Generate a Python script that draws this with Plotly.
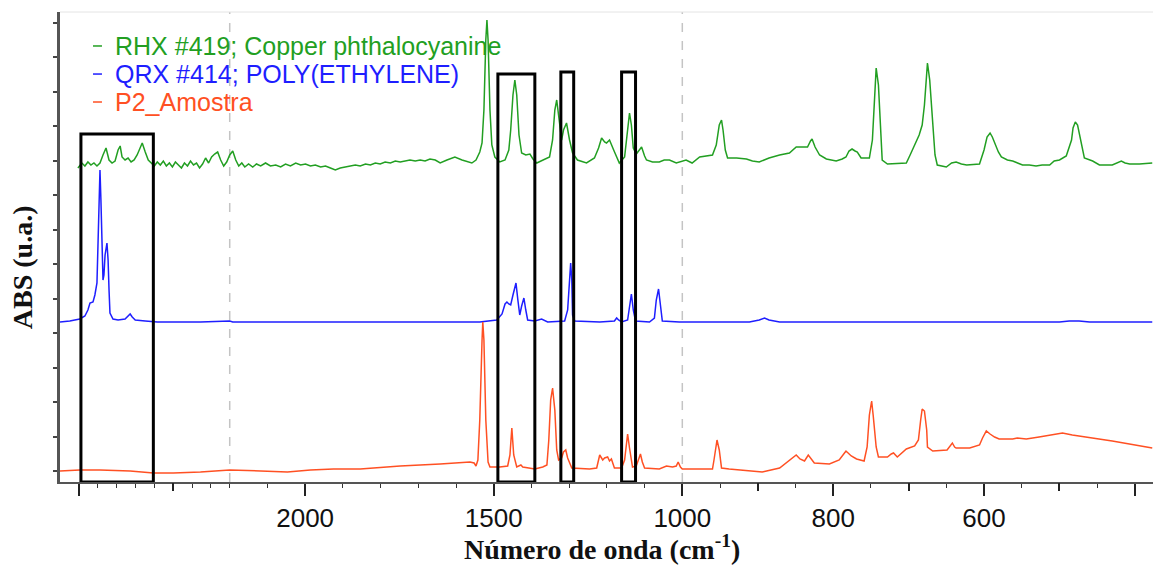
import numpy as np
import plotly.graph_objects as go

# ---------------- data (wavenumber in cm-1, absorbance in u.a.) ----------------
green_wn = [3005, 2984, 2968, 2952, 2936, 2920, 2904, 2888, 2872, 2856, 2840, 2824, 2808, 2792, 2781, 2771,
            2755, 2739, 2723, 2707, 2691, 2675, 2664, 2648, 2632, 2616, 2600, 2584, 2568, 2552, 2536, 2520,
            2504, 2488, 2472, 2456, 2440, 2424, 2408, 2392, 2376, 2360, 2344, 2328, 2312, 2296, 2280, 2264,
            2248, 2232, 2216, 2200, 2192, 2184, 2176, 2168, 2160, 2150, 2139, 2129, 2118, 2105, 2092, 2078,
            2065, 2052, 2039, 2025, 2012, 1999, 1986, 1973, 1959, 1946, 1933, 1920, 1907, 1893, 1880, 1867,
            1854, 1840, 1827, 1814, 1801, 1788, 1774, 1761, 1748, 1735, 1722, 1708, 1695, 1682, 1669, 1655,
            1642, 1624, 1603, 1584, 1568, 1558, 1547, 1537, 1531, 1526, 1521, 1518, 1515, 1510, 1505, 1497,
            1484, 1470, 1460, 1455, 1449, 1444, 1439, 1433, 1426, 1415, 1404, 1396, 1386, 1370, 1352, 1344,
            1338, 1333, 1328, 1320, 1315, 1307, 1299, 1291, 1278, 1254, 1233, 1222, 1214, 1206, 1201, 1193,
            1182, 1172, 1167, 1153, 1148, 1143, 1140, 1135, 1130, 1122, 1114, 1108, 1100, 1095, 1079, 1061,
            1048, 1034, 1016, 1000, 995, 987, 977, 960, 955, 951, 948, 946, 943, 940, 928, 915,
            907, 898, 885, 871, 858, 849, 841, 834, 830, 828, 824, 818, 809, 796, 788, 783,
            779, 775, 771, 768, 763, 752, 748, 745, 743, 740, 737, 735, 728, 712, 703, 698,
            692, 686, 682, 679, 675, 672, 668, 665, 662, 650, 643, 637, 630, 623, 606, 602,
            600, 596, 592, 589, 586, 581, 577, 569, 562, 549, 540, 531, 523, 513, 507, 500,
            491, 487, 484, 482, 479, 476, 474, 470, 467, 456, 447, 430, 423, 418, 413, 407,
            394, 377]
green_abs = [3.03, 3.08, 3.05, 3.09, 3.06, 3.08, 3.05, 3.08, 3.16, 3.23, 3.11, 3.08, 3.10, 3.21, 3.25, 3.14,
             3.11, 3.13, 3.09, 3.11, 3.16, 3.24, 3.28, 3.19, 3.11, 3.08, 3.05, 3.09, 3.06, 3.10, 3.05, 3.08,
             3.04, 3.09, 3.06, 3.03, 3.08, 3.05, 3.10, 3.06, 3.08, 3.03, 3.07, 3.13, 3.08, 3.14, 3.17, 3.19,
             3.11, 3.05, 3.09, 3.16, 3.20, 3.11, 3.05, 3.08, 3.04, 3.07, 3.04, 3.07, 3.05, 3.08, 3.05, 3.06,
             3.04, 3.07, 3.05, 3.08, 3.06, 3.07, 3.05, 3.06, 3.04, 3.05, 3.03, 3.01, 3.03, 3.04, 3.05, 3.06,
             3.05, 3.07, 3.06, 3.08, 3.07, 3.09, 3.08, 3.10, 3.09, 3.10, 3.11, 3.10, 3.11, 3.10, 3.12, 3.11,
             3.08, 3.11, 3.14, 3.11, 3.09, 3.08, 3.11, 3.19, 3.28, 3.61, 4.31, 4.51, 4.31, 3.61, 3.26, 3.14,
             3.09, 3.11, 3.21, 3.41, 3.76, 3.91, 3.76, 3.36, 3.18, 3.16, 3.17, 3.12, 3.08, 3.11, 3.14, 3.31,
             3.61, 3.71, 3.53, 3.31, 3.41, 3.48, 3.31, 3.18, 3.11, 3.08, 3.13, 3.23, 3.33, 3.29, 3.28, 3.31,
             3.21, 3.11, 3.08, 3.14, 3.31, 3.53, 3.58, 3.46, 3.23, 3.17, 3.21, 3.24, 3.15, 3.11, 3.09, 3.09,
             3.11, 3.11, 3.08, 3.10, 3.11, 3.08, 3.14, 3.16, 3.26, 3.46, 3.51, 3.41, 3.21, 3.13, 3.13, 3.12,
             3.10, 3.09, 3.13, 3.16, 3.18, 3.24, 3.24, 3.24, 3.30, 3.32, 3.24, 3.16, 3.12, 3.10, 3.12, 3.14,
             3.20, 3.22, 3.20, 3.19, 3.13, 3.13, 3.31, 3.76, 4.03, 3.86, 3.31, 3.11, 3.07, 3.08, 3.08, 3.16,
             3.26, 3.36, 3.46, 3.66, 4.08, 3.91, 3.48, 3.16, 3.06, 3.04, 3.08, 3.09, 3.07, 3.06, 3.07, 3.15,
             3.21, 3.34, 3.38, 3.34, 3.28, 3.19, 3.14, 3.11, 3.10, 3.06, 3.06, 3.05, 3.06, 3.06, 3.10, 3.11,
             3.15, 3.23, 3.31, 3.43, 3.49, 3.46, 3.38, 3.21, 3.13, 3.10, 3.06, 3.06, 3.08, 3.10, 3.08, 3.07,
             3.07, 3.08]

blue_wn = [3100, 3048, 2995, 2968, 2952, 2941, 2925, 2915, 2904, 2899, 2893, 2888, 2883, 2877, 2872, 2867,
           2861, 2851, 2845, 2840, 2835, 2819, 2792, 2755, 2739, 2728, 2717, 2701, 2648, 2584, 2355, 2200,
           2192, 2012, 1748, 1537, 1492, 1478, 1470, 1465, 1460, 1455, 1449, 1441, 1436, 1431, 1426, 1420,
           1415, 1410, 1391, 1373, 1357, 1312, 1304, 1299, 1296, 1293, 1291, 1285, 1219, 1180, 1174, 1169,
           1161, 1145, 1140, 1135, 1130, 1124, 1087, 1074, 1069, 1063, 1058, 1053, 1008, 911, 898, 891,
           885, 871, 500, 487, 474, 460, 377]
blue_abs = [1.49, 1.50, 1.52, 1.55, 1.61, 1.68, 1.69, 1.76, 1.88, 2.21, 2.71, 3.01, 2.71, 2.11, 1.91, 1.96,
            2.16, 2.28, 2.11, 1.81, 1.58, 1.52, 1.51, 1.52, 1.55, 1.57, 1.54, 1.51, 1.50, 1.49, 1.49, 1.50,
            1.49, 1.49, 1.49, 1.49, 1.51, 1.57, 1.67, 1.69, 1.67, 1.66, 1.76, 1.88, 1.71, 1.56, 1.65, 1.73,
            1.61, 1.51, 1.50, 1.52, 1.49, 1.50, 1.61, 1.96, 2.08, 1.91, 1.56, 1.50, 1.49, 1.50, 1.53, 1.51,
            1.49, 1.51, 1.66, 1.77, 1.61, 1.50, 1.49, 1.53, 1.71, 1.82, 1.66, 1.50, 1.49, 1.49, 1.51, 1.53,
            1.51, 1.49, 1.49, 1.50, 1.50, 1.49, 1.49]

red_wn = [3100, 2995, 2888, 2728, 2605, 2499, 2355, 2200, 2118, 2047, 1986, 1925, 1854, 1748, 1642, 1563,
          1552, 1547, 1542, 1537, 1531, 1529, 1526, 1521, 1515, 1510, 1484, 1463, 1457, 1452, 1447, 1439,
          1428, 1423, 1391, 1370, 1359, 1354, 1349, 1344, 1338, 1333, 1328, 1320, 1315, 1309, 1304, 1293,
          1246, 1227, 1219, 1211, 1206, 1198, 1193, 1188, 1180, 1161, 1153, 1148, 1145, 1140, 1132, 1122,
          1116, 1111, 1106, 1100, 1061, 1042, 1026, 1016, 1011, 1005, 1000, 977, 960, 958, 955, 954,
          951, 948, 938, 894, 871, 862, 854, 849, 844, 838, 833, 829, 825, 805, 792, 785,
          783, 776, 769, 759, 755, 752, 749, 747, 743, 740, 728, 723, 720, 715, 703, 692,
          687, 684, 682, 679, 676, 675, 668, 649, 645, 642, 639, 637, 619, 606, 602, 597,
          592, 586, 580, 562, 556, 544, 527, 496, 483, 430, 377]
red_abs = [0.00, 0.01, 0.01, 0.00, -0.02, -0.02, -0.01, 0.01, 0.00, -0.01, 0.01, 0.02, 0.02, 0.05, 0.07, 0.09,
           0.08, 0.05, 0.11, 0.51, 1.31, 1.49, 1.31, 0.51, 0.09, 0.04, 0.04, 0.05, 0.16, 0.43, 0.16, 0.04,
           0.06, 0.04, 0.02, 0.04, 0.06, 0.31, 0.71, 0.83, 0.61, 0.21, 0.11, 0.13, 0.19, 0.21, 0.13, 0.03,
           0.02, 0.03, 0.16, 0.11, 0.13, 0.14, 0.10, 0.12, 0.03, 0.03, 0.11, 0.31, 0.37, 0.23, 0.04, 0.05,
           0.13, 0.17, 0.09, 0.03, 0.02, 0.05, 0.04, 0.05, 0.09, 0.04, 0.02, 0.02, 0.02, 0.11, 0.28, 0.31,
           0.21, 0.03, 0.02, -0.01, 0.03, 0.08, 0.13, 0.16, 0.12, 0.10, 0.16, 0.12, 0.08, 0.07, 0.11, 0.18,
           0.20, 0.15, 0.12, 0.10, 0.24, 0.56, 0.70, 0.56, 0.24, 0.14, 0.14, 0.17, 0.18, 0.14, 0.22, 0.25,
           0.31, 0.51, 0.62, 0.60, 0.41, 0.24, 0.20, 0.21, 0.25, 0.28, 0.24, 0.23, 0.23, 0.26, 0.33, 0.40,
           0.37, 0.34, 0.32, 0.32, 0.33, 0.32, 0.34, 0.38, 0.36, 0.30, 0.23]

series_names = ["RHX #419; Copper phthalocyanine", "QRX #414; POLY(ETHYLENE)", "P2_Amostra"]
series_colors = ["#229f22", "#1e1eff", "#ff5023"]

# highlighted regions (black boxes)
box_wn_left = [2989, 1489, 1322, 1161]
box_wn_right = [2605, 1391, 1288, 1124]
box_top = [3.37, 3.97, 3.99, 3.99]

# axis ticks (cm-1)
major_ticks = [3000, 2000, 1500, 1000, 800, 600, 400]
major_labels = [" ", "2000", "1500", "1000", "800", "600", " "]
medium_ticks = [2500, 900, 700, 500]
minor_ticks = [2900, 2800, 2700, 2600, 2400, 2300, 2200, 2100, 1900, 1800, 1700, 1600,
               1400, 1300, 1200, 1100, 950, 850, 750, 650, 550, 450]
scale_breaks = [2200, 1000]

# ---------------- piecewise (compressed) wavenumber scale ----------------
WN_BREAKS = np.array([3100, 2200, 1000, 376], dtype=float)
SEG_WEIGHT = np.array([0.25, 0.5, 1.0])
U_BREAKS = np.concatenate([[0.0], np.cumsum(np.abs(np.diff(WN_BREAKS)) * SEG_WEIGHT)])


def to_u(wn):
    return np.interp(-np.asarray(wn, dtype=float), -WN_BREAKS, U_BREAKS)


Y_MIN, Y_MAX = -0.11, 4.59
Y_DTICK = 0.3446

fig = go.Figure()
for wn, ab, name, col in [(green_wn, green_abs, series_names[0], series_colors[0]),
                          (blue_wn, blue_abs, series_names[1], series_colors[1]),
                          (red_wn, red_abs, series_names[2], series_colors[2])]:
    fig.add_trace(go.Scatter(x=to_u(wn), y=ab, mode="lines", name=name,
                             line=dict(color=col, width=1.5), customdata=wn,
                             hovertemplate="%{customdata} cm⁻¹<br>%{y}<extra>" + name + "</extra>",
                             showlegend=False))

# dummy trace for the secondary tick axis
fig.add_trace(go.Scatter(x=[None], y=[None], xaxis="x2", showlegend=False, hoverinfo="skip"))

shapes = []
# dashed lines at scale breaks
for b in scale_breaks:
    shapes.append(dict(type="line", xref="x", yref="paper", x0=float(to_u(b)), x1=float(to_u(b)),
                       y0=0, y1=1, line=dict(color="#c4c4c4", width=1.5, dash="dash"), layer="below"))
# faint top frame
shapes.append(dict(type="line", xref="paper", yref="paper", x0=0, x1=1, y0=1, y1=1,
                   line=dict(color="#e4e4e4", width=1)))
# black boxes
for l, r, t in zip(box_wn_left, box_wn_right, box_top):
    shapes.append(dict(type="rect", xref="x", yref="y", x0=float(to_u(l)), x1=float(to_u(r)),
                       y0=Y_MIN, y1=t, line=dict(color="black", width=3), layer="above"))

annotations = []
# legend-like labels
leg_y = [0.9277, 0.868, 0.8085]
for name, col, yy in zip(series_names, series_colors, leg_y):
    shapes.append(dict(type="line", xref="paper", yref="paper", x0=0.0302, x1=0.0384, y0=yy, y1=yy,
                       line=dict(color=col, width=1.5)))
    annotations.append(dict(xref="paper", yref="paper", x=0.0485, y=yy, xanchor="left", yanchor="middle",
                            text=name, showarrow=False,
                            font=dict(family="Liberation Sans, Arial, sans-serif", size=25, color=col)))
# axis titles
annotations.append(dict(xref="paper", yref="paper", x=0.496, y=-0.1404, xanchor="center", yanchor="middle",
                        text="<b>Número de onda (cm<sup>-1</sup>)</b>", showarrow=False,
                        font=dict(family="Liberation Serif, Times New Roman, serif", size=28, color="#111")))
annotations.append(dict(xref="paper", yref="paper", x=-0.0348, y=0.457, xanchor="center", yanchor="middle",
                        text="<b>ABS (u.a.)</b>", textangle=-90, showarrow=False,
                        font=dict(family="Liberation Serif, Times New Roman, serif", size=28, color="#111")))

fig.update_layout(
    width=1153, height=565,
    margin=dict(l=60, r=0, t=12, b=83),
    paper_bgcolor="white", plot_bgcolor="white",
    showlegend=False,
    shapes=shapes, annotations=annotations,
    xaxis=dict(range=[0, float(U_BREAKS[-1])], showgrid=False, zeroline=False,
               showline=True, linecolor="#555", linewidth=1.5,
               tickmode="array", tickvals=to_u(major_ticks).tolist(), ticktext=major_labels,
               ticks="outside", ticklen=12, tickwidth=2, tickcolor="#222",
               tickfont=dict(family="Liberation Sans, Arial, sans-serif", size=26, color="#111"),
               minor=dict(tickmode="array", tickvals=to_u(minor_ticks).tolist(), ticks="outside",
                          ticklen=4, tickwidth=1, tickcolor="#333", showgrid=False)),
    xaxis2=dict(range=[0, float(U_BREAKS[-1])], overlaying="x", anchor="y", side="bottom",
                showgrid=False, zeroline=False, showline=False, showticklabels=False,
                tickmode="array", tickvals=to_u(medium_ticks).tolist(),
                ticks="outside", ticklen=8, tickwidth=2, tickcolor="#222"),
    yaxis=dict(range=[Y_MIN, Y_MAX], showgrid=False, zeroline=False, showticklabels=False,
               showline=True, linecolor="#555", linewidth=2.5,
               tick0=0, dtick=Y_DTICK, ticks="outside", ticklen=4, tickwidth=1.5, tickcolor="#444"),
)

fig.write_html("out.html", config={"displayModeBar": False},
               post_script="document.body.style.margin='0';document.body.style.overflow='hidden';")
